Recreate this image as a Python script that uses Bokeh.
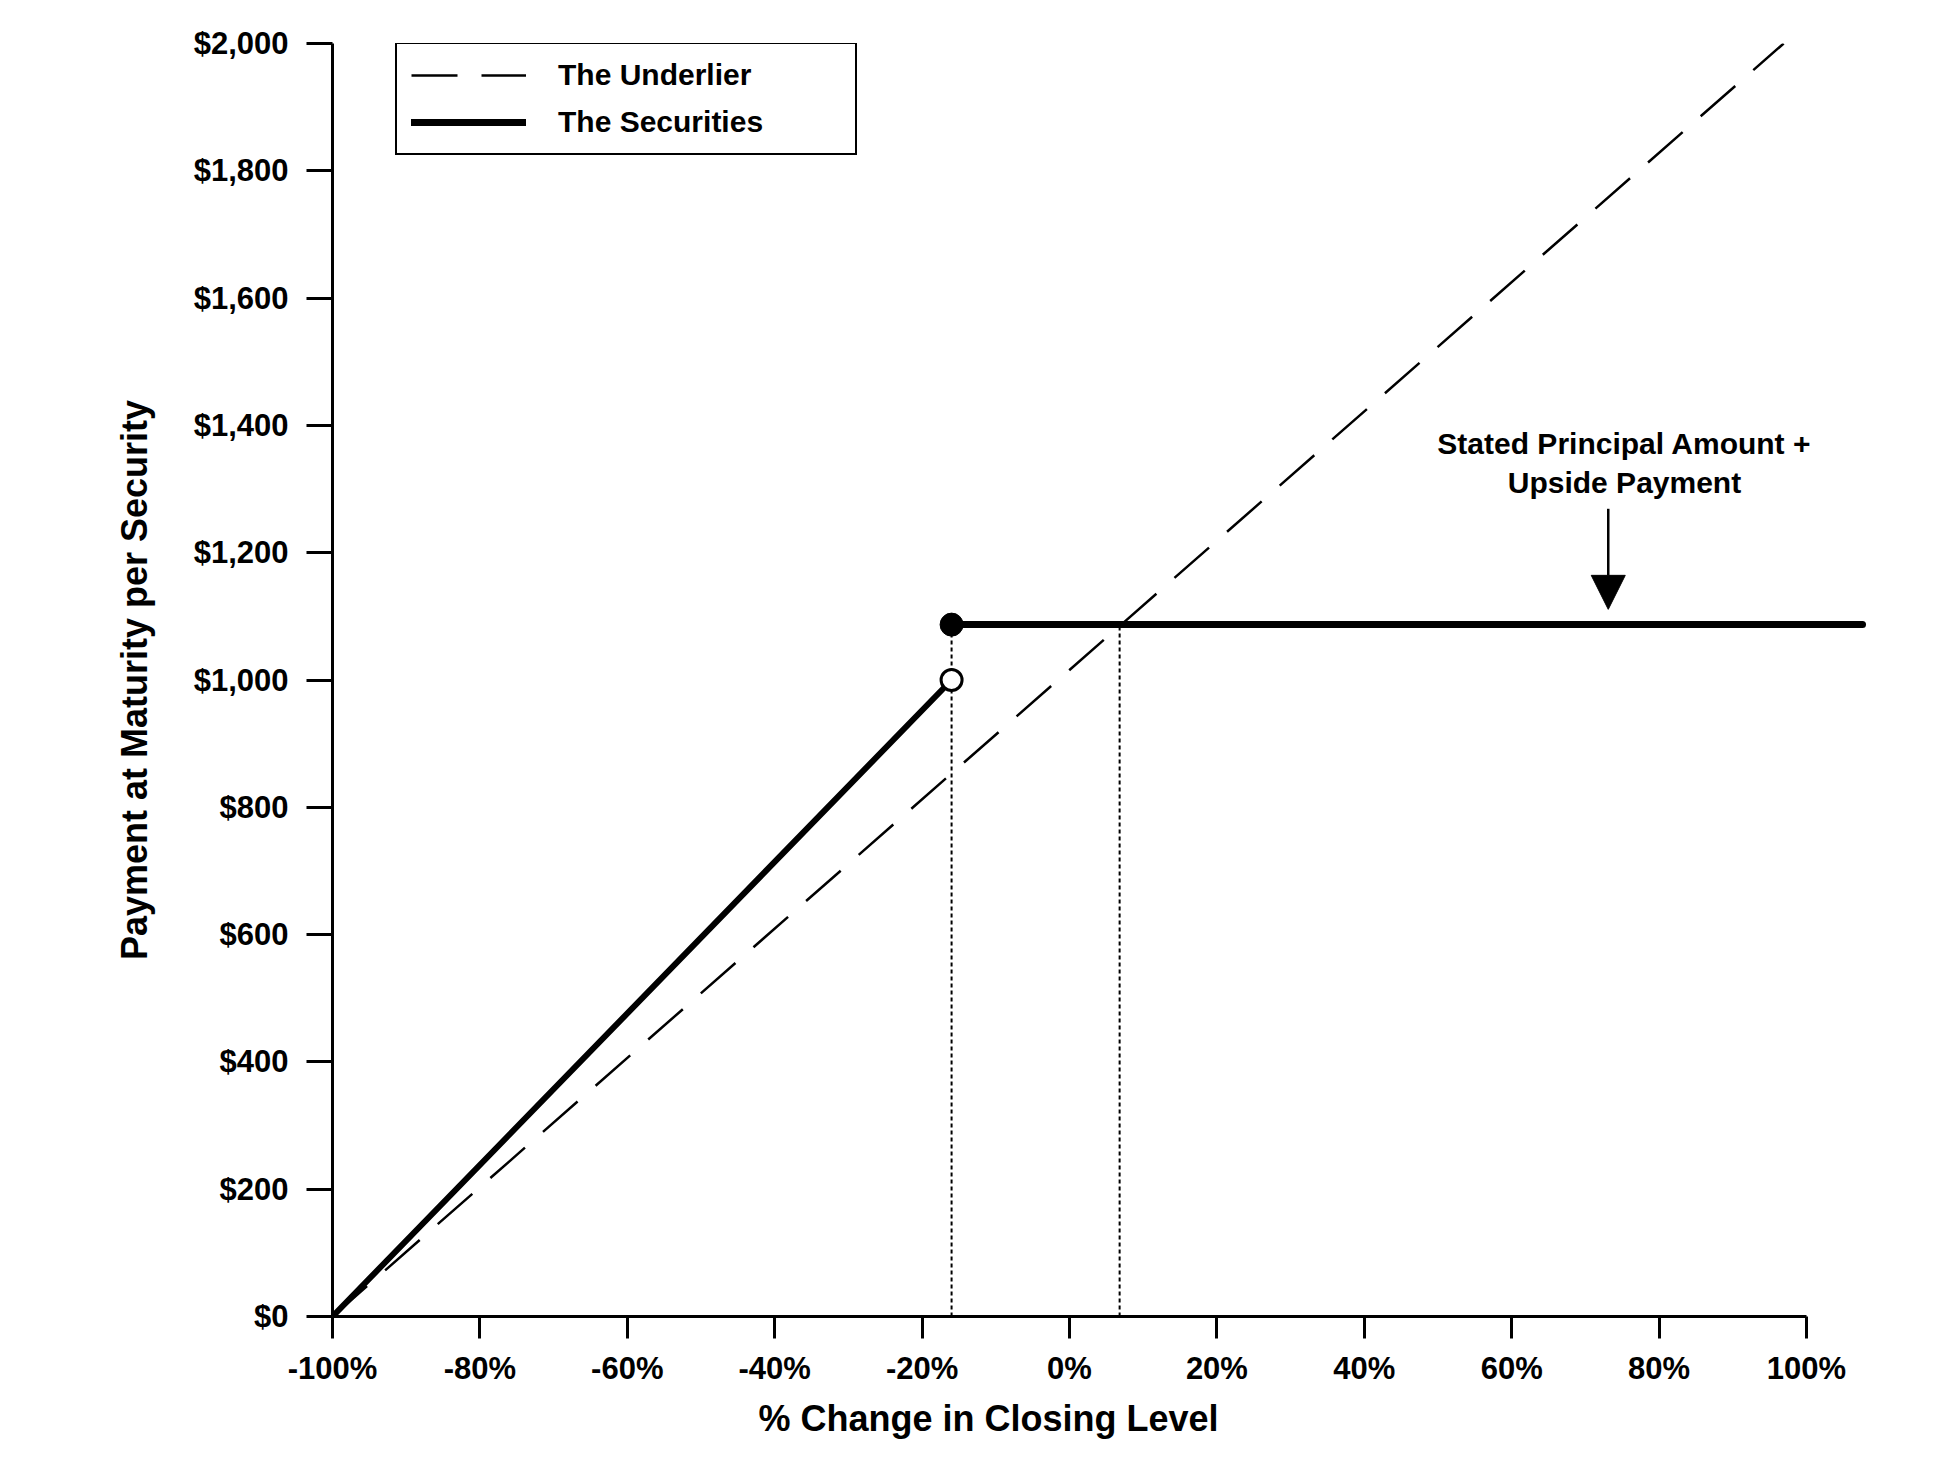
from bokeh.plotting import figure
from bokeh.models import (Range1d, FixedTicker, NumeralTickFormatter, PrintfTickFormatter,
                          Legend, LegendItem, Label, Arrow, NormalHead, Title)
from bokeh.embed import file_html
from bokeh.resources import INLINE

# ---- data ----
x_ticks = [-100, -80, -60, -40, -20, 0, 20, 40, 60, 80, 100]
y_ticks = [0, 200, 400, 600, 800, 1000, 1200, 1400, 1600, 1800, 2000]

underlier_x = [-100, 96.9]
underlier_y = [0, 2000]

securities_down_x = [-100, -16]
securities_down_y = [0, 1000]

securities_cap_x = [-16, 107.6]
securities_cap_y = [1087, 1087]

filled_pt_x = [-16]
filled_pt_y = [1087]
open_pt_x = [-16]
open_pt_y = [1000]

ref_lines_x = [-16, 6.8]
ref_lines_top = [1087, 1087]

arrow_x = 73.1
arrow_from = 1269
arrow_to = 1111
note_lines = ["Stated Principal Amount +", "Upside Payment"]
note_x = 75.3
note_y = [1371, 1310]

FONT = "Liberation Sans"

p = figure(frame_width=1548, frame_height=1273,
           min_border_left=332, min_border_top=43, min_border_right=20, min_border_bottom=140,
           x_range=Range1d(-100, 110.04), y_range=Range1d(0, 2000),
           output_backend="svg", toolbar_location=None)
p.outline_line_color = None
p.xgrid.grid_line_color = None
p.ygrid.grid_line_color = None
p.background_fill_color = "white"
p.border_fill_color = "white"

# axes
p.xaxis.ticker = FixedTicker(ticks=x_ticks)
p.xaxis.formatter = PrintfTickFormatter(format="%d%%")
p.yaxis.ticker = FixedTicker(ticks=y_ticks)
p.yaxis.formatter = NumeralTickFormatter(format="$0,0")
p.xaxis.bounds = (-100, 100)
p.yaxis.bounds = (0, 2000)
for ax in (p.xaxis[0], p.yaxis[0]):
    ax.axis_line_width = 3
    ax.axis_line_color = "black"
    ax.major_tick_line_width = 3
    ax.major_tick_line_color = "black"
    ax.major_tick_in = 0
    ax.minor_tick_line_color = None
    ax.major_label_text_font = FONT
    ax.major_label_text_font_size = "31px"
    ax.major_label_text_font_style = "bold"
    ax.major_label_text_color = "black"
p.xaxis.major_tick_out = 22
p.yaxis.major_tick_out = 26
p.xaxis.major_label_standoff = 12
p.yaxis.major_label_standoff = 18

p.yaxis.axis_label = "Payment at Maturity per Security"
p.yaxis.axis_label_text_font = FONT
p.yaxis.axis_label_text_font_size = "36px"
p.yaxis.axis_label_text_font_style = "bold"
p.yaxis.axis_label_text_color = "black"
p.yaxis.axis_label_standoff = 36

# x-axis title, placed below the axis and shifted left like the reference
p.add_layout(Title(text="% Change in Closing Level", align="left", offset=426,
                   standoff=14, text_font=FONT, text_font_size="36px",
                   text_font_style="bold", text_color="black"), "below")

# reference dotted lines
p.segment(x0=ref_lines_x, y0=[0, 0], x1=ref_lines_x, y1=ref_lines_top,
          line_color="black", line_width=2, line_dash="4 3")

# underlier
r_under = p.line(underlier_x, underlier_y, line_color="black", line_width=2.5,
                 line_dash="46 24")

# securities
p.line(securities_down_x, securities_down_y, line_color="black", line_width=6,
       line_cap="round")
r_cap = p.line(securities_cap_x, securities_cap_y, line_color="black", line_width=7,
               line_cap="round")
p.scatter(filled_pt_x, filled_pt_y, size=23, marker="circle", fill_color="black",
          line_color="black")
p.scatter(open_pt_x, open_pt_y, size=21, marker="circle", fill_color="white",
          line_color="black", line_width=3)

# annotation
p.add_layout(Arrow(end=NormalHead(size=34, fill_color="black", line_color="black"),
                   x_start=arrow_x, y_start=arrow_from, x_end=arrow_x, y_end=arrow_to,
                   line_color="black", line_width=2.5))
for txt, yy in zip(note_lines, note_y):
    p.add_layout(Label(x=note_x, y=yy, text=txt, text_align="center",
                       text_baseline="middle", text_font=FONT,
                       text_font_size="30px", text_font_style="bold",
                       text_color="black"))

# legend
legend = Legend(items=[LegendItem(label="The Underlier", renderers=[r_under]),
                       LegendItem(label="The Securities", renderers=[r_cap])],
                location=(63, 1161), orientation="vertical",
                padding=14, spacing=13, margin=0,
                glyph_width=115, glyph_height=30, label_height=30,
                label_width=283, label_standoff=32,
                label_text_font=FONT, label_text_font_size="30px",
                label_text_font_style="bold", label_text_color="black",
                border_line_color="black", border_line_width=2.5, border_line_alpha=1.0,
                background_fill_color="white", background_fill_alpha=1.0)
p.add_layout(legend)

open("out.html", "w").write(file_html(p, INLINE))
